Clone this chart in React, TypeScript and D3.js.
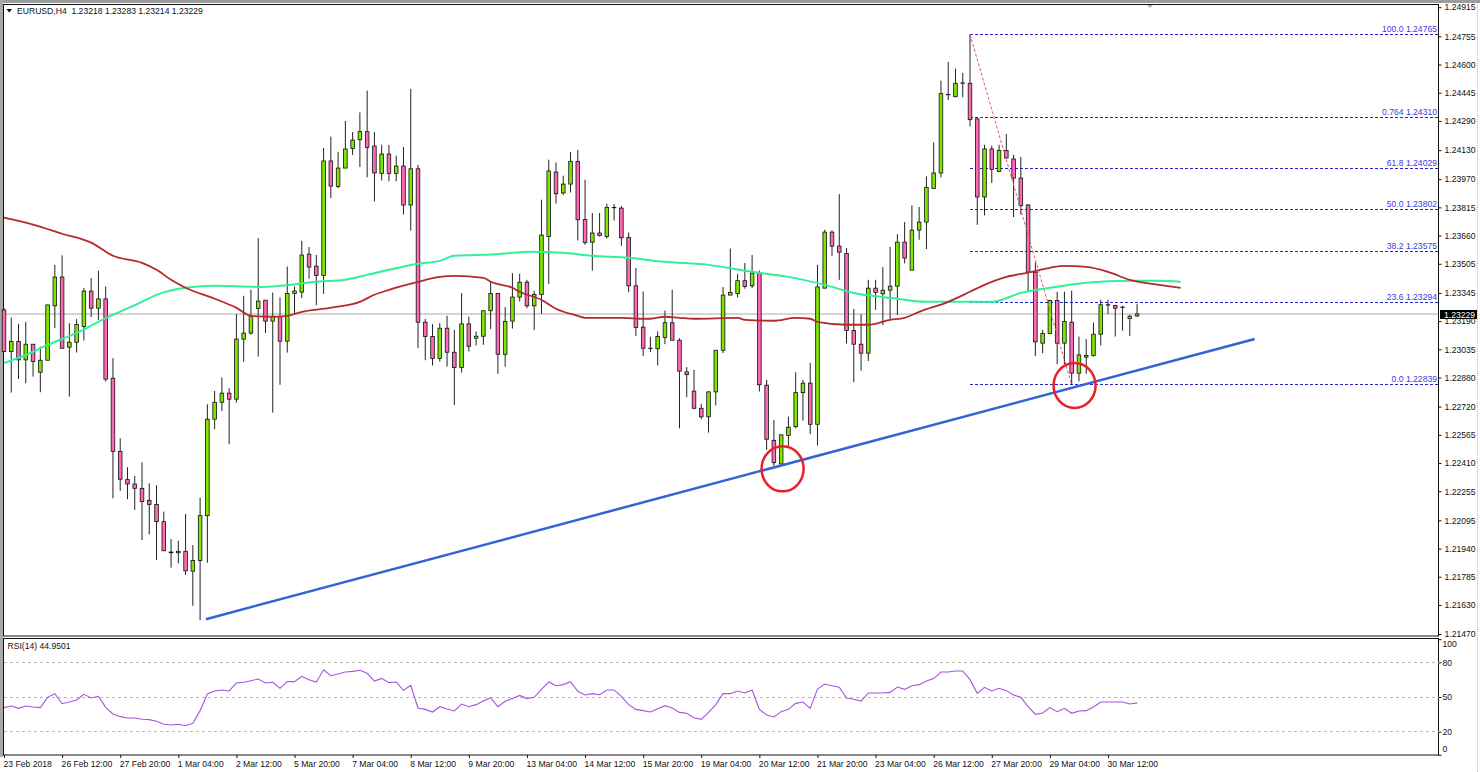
import React, { useRef, useLayoutEffect } from 'react';
import * as d3 from 'd3';

const WIDTH = 1480;
const HEIGHT = 772;

const opens = [
  1.23252, 1.23023, 1.23078, 1.22977, 1.23063, 1.22909, 1.22975, 1.23274, 1.23432, 1.23047,
  1.23074, 1.2316, 1.23355, 1.23261, 1.23312, 1.22876, 1.22473, 1.22319, 1.22295, 1.22271,
  1.22205, 1.22183, 1.22088, 1.21921, 1.21917, 1.21925, 1.21816, 1.21875, 1.22121, 1.22651,
  1.22744, 1.22794, 1.22761, 1.23091, 1.23124, 1.23259, 1.23305, 1.2319, 1.23215, 1.2308,
  1.23342, 1.23349, 1.23558, 1.23492, 1.23441, 1.2407, 1.2393, 1.24031, 1.24139, 1.24187,
  1.24231, 1.24152, 1.24002, 1.24108, 1.24002, 1.24042, 1.23828, 1.24027, 1.23184, 1.23105,
  1.22984, 1.23151, 1.23019, 1.22935, 1.23175, 1.23096, 1.23107, 1.23247, 1.23342, 1.23008,
  1.2319, 1.23322, 1.23404, 1.23274, 1.23336, 1.23655, 1.24009, 1.23894, 1.23943, 1.24068,
  1.23749, 1.23624, 1.23674, 1.23655, 1.23815, 1.23811, 1.2365, 1.23384, 1.23157, 1.23041,
  1.23038, 1.231, 1.23181, 1.23085, 1.22911, 1.22805, 1.22711, 1.22664, 1.22801, 1.2303,
  1.23333, 1.23342, 1.23412, 1.23384, 1.23454, 1.22838, 1.22535, 1.22405, 1.22561, 1.2261,
  1.22797, 1.22849, 1.22623, 1.23371, 1.23679, 1.23602, 1.23562, 1.23138, 1.23063, 1.23014,
  1.23371, 1.2334, 1.2336, 1.23382, 1.23624, 1.2347, 1.2369, 1.23734, 1.23919, 1.24004,
  1.24434, 1.24423, 1.24499, 1.24497, 1.24301, 1.23872, 1.24136, 1.24013, 1.24127, 1.24081,
  1.23976, 1.23828, 1.23459, 1.23069, 1.23122, 1.23303, 1.23069, 1.23184, 1.22904, 1.22992,
  1.23001, 1.23118, 1.23278, 1.23276, 1.23267, 1.23204, 1.23218,
];

const highs = [
  1.23261, 1.2321, 1.23175, 1.23186, 1.23063, 1.2305, 1.23279, 1.23499, 1.23551, 1.23179,
  1.23201, 1.23371, 1.23426, 1.23467, 1.2338, 1.22986, 1.22546, 1.22387, 1.22339, 1.22414,
  1.22299, 1.22288, 1.22143, 1.21992, 1.21983, 1.2213, 1.21959, 1.2222, 1.22733, 1.22806,
  1.2288, 1.22821, 1.23228, 1.23329, 1.23362, 1.23646, 1.23305, 1.23347, 1.2332, 1.2349,
  1.2338, 1.23631, 1.23597, 1.23554, 1.24141, 1.24204, 1.24119, 1.2429, 1.24229, 1.24337,
  1.24457, 1.24229, 1.24159, 1.24158, 1.24099, 1.24147, 1.24466, 1.24049, 1.23202, 1.23173,
  1.23179, 1.23219, 1.23142, 1.23344, 1.23214, 1.23133, 1.23247, 1.23408, 1.23344, 1.23267,
  1.23454, 1.2345, 1.23417, 1.23356, 1.23857, 1.24077, 1.24062, 1.23989, 1.24119, 1.2413,
  1.23967, 1.23784, 1.23784, 1.23835, 1.23833, 1.23822, 1.23677, 1.23481, 1.23353, 1.23104,
  1.23133, 1.23248, 1.23362, 1.23096, 1.22937, 1.22922, 1.22735, 1.22805, 1.2303, 1.23377,
  1.23589, 1.2345, 1.23509, 1.23553, 1.23468, 1.22867, 1.22647, 1.22565, 1.22665, 1.22909,
  1.22867, 1.22961, 1.23499, 1.23692, 1.23688, 1.23888, 1.23591, 1.23257, 1.23228, 1.23417,
  1.23417, 1.23487, 1.23597, 1.23668, 1.23734, 1.23826, 1.23817, 1.23985, 1.24172, 1.24511,
  1.24614, 1.24577, 1.24554, 1.24765, 1.24306, 1.24159, 1.24154, 1.24159, 1.24218, 1.24104,
  1.24092, 1.23833, 1.23512, 1.23142, 1.23307, 1.23351, 1.23351, 1.23357, 1.23105, 1.23091,
  1.23182, 1.23307, 1.23307, 1.2328, 1.23274, 1.23225, 1.23283,
];

const lows = [
  1.23023, 1.22797, 1.22872, 1.22849, 1.22885, 1.22799, 1.22975, 1.23151, 1.23041, 1.22775,
  1.23017, 1.23083, 1.23212, 1.23197, 1.22858, 1.22216, 1.22257, 1.22211, 1.22152, 1.21987,
  1.22018, 1.21877, 1.21928, 1.21835, 1.21859, 1.21794, 1.21626, 1.21547, 1.21862, 1.22596,
  1.22696, 1.22513, 1.22742, 1.22966, 1.23116, 1.22995, 1.23124, 1.22687, 1.2284, 1.23017,
  1.23228, 1.23316, 1.23423, 1.23278, 1.2334, 1.23866, 1.23921, 1.24031, 1.24103, 1.24037,
  1.2398, 1.23848, 1.23963, 1.23958, 1.23958, 1.23776, 1.23687, 1.23041, 1.22975, 1.22946,
  1.22968, 1.2294, 1.22729, 1.22907, 1.23023, 1.23056, 1.2306, 1.23146, 1.229, 1.2294,
  1.23149, 1.23298, 1.23261, 1.23142, 1.2323, 1.23395, 1.23835, 1.23884, 1.23897, 1.23633,
  1.23609, 1.23468, 1.23655, 1.23644, 1.23743, 1.23604, 1.23349, 1.23109, 1.22999, 1.23019,
  1.22946, 1.23063, 1.23085, 1.22601, 1.22772, 1.22706, 1.22651, 1.22577, 1.22726, 1.23014,
  1.23333, 1.2332, 1.23368, 1.23371, 1.22803, 1.22482, 1.22394, 1.22405, 1.225, 1.22601,
  1.22643, 1.22568, 1.22506, 1.23371, 1.23549, 1.23417, 1.23067, 1.22854, 1.22918, 1.2297,
  1.23252, 1.23168, 1.23197, 1.23224, 1.23507, 1.2347, 1.23637, 1.23586, 1.23919, 1.2398,
  1.24405, 1.2442, 1.2442, 1.2426, 1.23719, 1.23771, 1.23949, 1.24009, 1.24086, 1.23762,
  1.23775, 1.23353, 1.22999, 1.23014, 1.23122, 1.22953, 1.22953, 1.22839, 1.22858, 1.229,
  1.22995, 1.23056, 1.2323, 1.23105, 1.23138, 1.23109, 1.23214,
];

const closes = [
  1.23023, 1.23078, 1.22977, 1.23063, 1.22968, 1.22975, 1.23279, 1.23432, 1.23041, 1.23074,
  1.23171, 1.23355, 1.23261, 1.23312, 1.22871, 1.22473, 1.22321, 1.22295, 1.22271, 1.22198,
  1.22183, 1.22088, 1.21928, 1.21917, 1.21925, 1.21818, 1.21875, 1.22121, 1.22651, 1.22744,
  1.22794, 1.22761, 1.23091, 1.23124, 1.23215, 1.233, 1.2319, 1.23215, 1.2308, 1.23342,
  1.23355, 1.23553, 1.23487, 1.23441, 1.2407, 1.23932, 1.24031, 1.24136, 1.24185, 1.24231,
  1.24145, 1.24004, 1.24108, 1.24002, 1.24042, 1.23828, 1.24027, 1.23184, 1.23105, 1.22984,
  1.23151, 1.23019, 1.22935, 1.23175, 1.23052, 1.23107, 1.23247, 1.23342, 1.23008, 1.23188,
  1.23322, 1.23404, 1.23274, 1.23336, 1.23663, 1.24015, 1.2389, 1.23943, 1.24068, 1.23747,
  1.23622, 1.23674, 1.23661, 1.23815, 1.23813, 1.23648, 1.23384, 1.23155, 1.23041, 1.23039,
  1.23105, 1.23181, 1.23085, 1.22915, 1.22896, 1.22711, 1.22664, 1.22801, 1.2303, 1.23333,
  1.23347, 1.23412, 1.2338, 1.23454, 1.2284, 1.22541, 1.22412, 1.22565, 1.22607, 1.22797,
  1.22849, 1.22623, 1.23378, 1.23679, 1.23602, 1.23569, 1.23138, 1.23063, 1.23014, 1.23371,
  1.23347, 1.2336, 1.23382, 1.23624, 1.23536, 1.2369, 1.23734, 1.23925, 1.24004, 1.2444,
  1.24436, 1.24497, 1.24497, 1.24297, 1.23872, 1.24136, 1.24024, 1.24127, 1.24086, 1.23976,
  1.23826, 1.23459, 1.23076, 1.23122, 1.23303, 1.23069, 1.23188, 1.22904, 1.23004, 1.23001,
  1.23118, 1.2328, 1.2328, 1.23261, 1.23265, 1.23217, 1.23229,
];

// moving averages, read at the bar numbers in the *Bars arrays
const redBars = [
  0, 4, 8, 12, 15, 19, 21, 23, 25, 29, 32, 34, 37, 39, 41, 44, 46, 49, 51, 53, 57, 60, 62, 66, 67,
  70, 71, 74, 76, 79, 80, 85, 88, 89, 91, 93, 95, 101, 102, 106, 109, 111, 112, 116, 119, 122, 124,
  126, 130, 133, 135, 138, 141, 144, 146, 149, 152, 155, 159, 162,
];
const redValues = [
  1.23758, 1.2372, 1.2367, 1.23621, 1.23549, 1.2351, 1.23472, 1.23417, 1.23373, 1.23313, 1.23263,
  1.23219, 1.23214, 1.23219, 1.23241, 1.23258, 1.23269, 1.23296, 1.23335, 1.23362, 1.23406, 1.23433,
  1.23439, 1.23428, 1.23406, 1.23373, 1.23351, 1.23307, 1.23258, 1.23219, 1.23208, 1.23208, 1.23203,
  1.23203, 1.23214, 1.23208, 1.23203, 1.23208, 1.23197, 1.23192, 1.23208, 1.23203, 1.23186, 1.2317,
  1.2317, 1.23197, 1.23208, 1.23241, 1.23296, 1.23351, 1.23389, 1.23433, 1.23456, 1.23483, 1.23494,
  1.23488, 1.23461, 1.23417, 1.23389, 1.23373,
];

const greenBars = [
  0, 3, 6, 10, 13, 15, 19, 21, 25, 29, 35, 38, 43, 47, 50, 53, 57, 60, 62, 66, 70, 72, 77, 81, 86,
  91, 97, 103, 108, 113, 117, 122, 127, 130, 136, 140, 144, 149, 155, 159, 162,
];
const greenValues = [
  1.2296, 1.23004, 1.23059, 1.23125, 1.23186, 1.23224, 1.23296, 1.23334, 1.23373, 1.23384, 1.23378,
  1.23384, 1.23406, 1.23417, 1.23444, 1.23472, 1.23505, 1.23521, 1.23549, 1.23554, 1.23565, 1.23571,
  1.23565, 1.23549, 1.23538, 1.23516, 1.23499, 1.23461, 1.23433, 1.23389, 1.23345, 1.23318, 1.23296,
  1.23296, 1.23296, 1.23345, 1.23373, 1.23401, 1.23412, 1.23412, 1.23406,
];

const rsiValues = [
  40.8, 42.2, 40.2, 42.2, 41.4, 40.8, 49.7, 52.9, 44.2, 45.7, 47.4, 52.3, 49.1, 50.6, 41.1, 35.3,
  33.0, 31.8, 31.8, 30.7, 30.4, 29.0, 26.4, 25.8, 26.4, 25.2, 27.2, 38.2, 52.6, 55.2, 56.1, 55.2,
  62.1, 62.7, 64.1, 65.6, 62.1, 62.7, 57.5, 63.3, 63.3, 67.9, 65.0, 63.0, 73.6, 68.4, 69.9, 71.6,
  72.2, 73.1, 70.5, 63.8, 66.1, 62.4, 63.0, 55.8, 60.1, 40.5, 39.3, 37.0, 41.6, 39.6, 37.9, 43.9,
  41.6, 43.4, 46.5, 49.4, 41.6, 46.3, 48.8, 51.4, 48.6, 49.7, 56.6, 63.0, 59.8, 60.7, 63.3, 54.9,
  51.7, 52.9, 52.0, 56.1, 56.1, 50.6, 43.4, 39.3, 38.2, 37.0, 39.9, 42.5, 40.5, 36.7, 35.9, 32.1,
  30.7, 36.7, 43.4, 52.9, 52.9, 55.2, 53.5, 56.1, 39.3, 34.4, 32.7, 37.3, 39.3, 44.5, 45.7, 40.2,
  56.9, 61.2, 59.8, 58.4, 49.1, 48.0, 46.5, 53.5, 53.5, 53.5, 54.0, 58.6, 56.6, 59.8, 60.7, 63.8,
  65.9, 71.6, 71.6, 72.5, 72.5, 65.0, 53.2, 58.4, 55.2, 57.5, 55.5, 51.7, 49.7, 41.6, 35.0, 36.2,
  40.8, 37.3, 40.2, 35.9, 37.9, 38.2, 41.4, 45.7, 45.7, 45.7, 45.7, 43.9, 44.95,
];

const priceTicks = [
  1.24915, 1.24755, 1.246, 1.24445, 1.2429, 1.2413, 1.2397, 1.23815, 1.2366, 1.23505, 1.23345,
  1.2319, 1.23035, 1.2288, 1.2272, 1.22565, 1.2241, 1.22255, 1.22095, 1.2194, 1.21785, 1.2163, 1.2147,
];
const rsiTicks = [100, 80, 50, 20, 0];
const rsiLevels = [80, 50, 20];

const timeLabels = [
  '23 Feb 2018', '26 Feb 12:00', '27 Feb 20:00', '1 Mar 04:00', '2 Mar 12:00', '5 Mar 20:00',
  '7 Mar 04:00', '8 Mar 12:00', '9 Mar 20:00', '13 Mar 04:00', '14 Mar 12:00', '15 Mar 20:00',
  '19 Mar 04:00', '20 Mar 12:00', '21 Mar 20:00', '23 Mar 04:00', '26 Mar 12:00', '27 Mar 20:00',
  '29 Mar 04:00', '30 Mar 12:00',
];
const BARS_PER_LABEL = 8;

const fibLabels = ['100.0', '0.764', '61.8', '50.0', '38.2', '23.6', '0.0'];
const fibPrices = [1.24765, 1.2431, 1.24029, 1.23802, 1.23575, 1.23294, 1.22839];
const fibStartBar = 133;
const fibEndBar = 147;

const trendBars = [27.8, 172.2];
const trendPrices = [1.21552, 1.23092];

const circleBars = [107.2, 147.4];
const circlePrices = [1.22378, 1.22836];

const lastPrice = 1.23229;
const header = 'EURUSD,H4  1.23218 1.23283 1.23214 1.23229';
const rsiHeader = 'RSI(14) 44.9501';

const FONT = '"Liberation Sans", Arial, sans-serif';
const FONT_SIZE = 8.6;
const TEXT = '#111';

const Chart: React.FC = () => {
  const ref = useRef<SVGSVGElement | null>(null);

  useLayoutEffect(() => {
    const svg = d3.select(ref.current);
    svg.selectAll('*').remove();

    const left = 3.5;
    const right = 1438.5;
    const mainTop = 4.5;
    const mainBottom = 636;
    const rsiTop = 638.5;
    const rsiBottom = 755;

    const x = d3.scaleLinear().domain([0, 19 * BARS_PER_LABEL]).range([4, 1108]);
    const y = d3.scaleLinear().domain([1.2147, 1.24915]).range([634.1, 7.2]);
    const yRsi = d3.scaleLinear().domain([0, 100]).range([754.8, 639.2]);

    svg.append('rect').attr('width', WIDTH).attr('height', HEIGHT).attr('fill', '#fff');

    // window edge, grey band top and left, dotted right
    svg.append('rect').attr('width', WIDTH).attr('height', 3).attr('fill', '#9c9c9c');
    svg.append('rect').attr('width', 3).attr('height', 757).attr('fill', '#a8a8a8');
    svg
      .append('line')
      .attr('x1', 1477.5)
      .attr('x2', 1477.5)
      .attr('y1', 3)
      .attr('y2', HEIGHT)
      .attr('stroke', '#bbb')
      .attr('stroke-dasharray', '1,1');
    svg.append('path').attr('d', 'M1146,4 L1154,4 L1150,8 Z').attr('fill', '#b0b0b0');

    // panes
    const panes = [
      [mainTop, mainBottom],
      [rsiTop, rsiBottom],
    ];
    panes.forEach(([t, b]) => {
      svg
        .append('rect')
        .attr('x', left)
        .attr('y', t)
        .attr('width', right - left)
        .attr('height', b - t)
        .attr('fill', 'none')
        .attr('stroke', '#111')
        .attr('stroke-width', 1);
    });

    // price axis
    const priceAxis = d3
      .axisRight(y)
      .tickValues(priceTicks)
      .tickSize(3)
      .tickPadding(3)
      .tickFormat((d) => d3.format('.5f')(d as number));
    const gPrice = svg.append('g').attr('transform', `translate(${right},0)`).call(priceAxis);
    gPrice.select('.domain').remove();

    // rsi axis
    const rsiAxis = d3
      .axisRight(yRsi)
      .tickValues(rsiTicks)
      .tickSize(3)
      .tickPadding(1)
      .tickFormat((d) => String(d));
    const gRsi = svg.append('g').attr('transform', `translate(${right},0)`).call(rsiAxis);
    gRsi.select('.domain').remove();
    gRsi
      .selectAll('text')
      .attr('dy', (d: any) => (d === 100 ? '0.9em' : d === 0 ? '-0.35em' : '0.32em'));

    // time axis
    const timeAxis = d3
      .axisBottom(x)
      .tickValues(timeLabels.map((_, i) => i * BARS_PER_LABEL))
      .tickSize(3)
      .tickPadding(2.5)
      .tickFormat((_, i) => timeLabels[i]);
    const gTime = svg.append('g').attr('transform', `translate(0,${rsiBottom})`).call(timeAxis);
    gTime.select('.domain').remove();
    gTime.selectAll('text').attr('text-anchor', 'start').attr('dx', -1);

    [gPrice, gRsi, gTime].forEach((g) => {
      g.attr('font-family', FONT).attr('font-size', FONT_SIZE);
      g.selectAll('text').attr('fill', TEXT);
      g.selectAll('line').attr('stroke', '#111');
    });

    // current price line
    svg
      .append('line')
      .attr('x1', left)
      .attr('x2', right)
      .attr('y1', y(lastPrice))
      .attr('y2', y(lastPrice))
      .attr('stroke', '#aaa');

    // fibonacci levels
    const fib = svg.append('g');
    fib
      .selectAll('line')
      .data(fibPrices)
      .enter()
      .append('line')
      .attr('x1', x(fibStartBar))
      .attr('x2', right - 1)
      .attr('y1', (d) => y(d))
      .attr('y2', (d) => y(d))
      .attr('stroke', '#2222d0')
      .attr('stroke-dasharray', '3,2')
      .attr('shape-rendering', 'crispEdges');
    fib
      .selectAll('text')
      .data(fibPrices)
      .enter()
      .append('text')
      .attr('x', right - 1.5)
      .attr('y', (d) => y(d) - 2.5)
      .attr('text-anchor', 'end')
      .attr('font-family', FONT)
      .attr('font-size', FONT_SIZE)
      .attr('fill', '#3c3ce0')
      .text((d, i) => `${fibLabels[i]} ${d.toFixed(5)}`);

    // candles
    const candles = svg
      .append('g')
      .selectAll('g')
      .data(opens.map((o, i) => ({ i, o, h: highs[i], l: lows[i], c: closes[i] })))
      .enter()
      .append('g');
    candles
      .append('line')
      .attr('x1', (d) => x(d.i))
      .attr('x2', (d) => x(d.i))
      .attr('y1', (d) => y(d.h))
      .attr('y2', (d) => y(d.l))
      .attr('stroke', '#222');
    candles
      .append('rect')
      .attr('x', (d) => x(d.i) - 1.8)
      .attr('width', 3.6)
      .attr('y', (d) => y(Math.max(d.o, d.c)))
      .attr('height', (d) => Math.abs(y(d.o) - y(d.c)))
      .attr('fill', (d) => (d.c >= d.o ? '#7ee600' : '#ff69b4'))
      .attr('stroke', '#111')
      .attr('stroke-width', 0.8);

    // fibonacci trend line
    svg
      .append('line')
      .attr('x1', x(fibStartBar))
      .attr('y1', y(fibPrices[0]))
      .attr('x2', x(fibEndBar))
      .attr('y2', y(fibPrices[fibPrices.length - 1]))
      .attr('stroke', '#e25a5a')
      .attr('stroke-dasharray', '3,2');

    // moving averages
    const drawMa = (bars: number[], vals: number[], color: string, width: number) => {
      const line = d3
        .line<number>()
        .x((d) => x(d))
        .y((_, i) => y(vals[i]))
        .curve(d3.curveMonotoneX);
      svg
        .append('path')
        .attr('d', line(bars))
        .attr('fill', 'none')
        .attr('stroke', color)
        .attr('stroke-width', width);
    };
    drawMa(greenBars, greenValues, '#30f09a', 2);
    drawMa(redBars, redValues, '#b52a2a', 1.8);

    // trend line
    svg
      .append('line')
      .attr('x1', x(trendBars[0]))
      .attr('y1', y(trendPrices[0]))
      .attr('x2', x(trendBars[1]))
      .attr('y2', y(trendPrices[1]))
      .attr('stroke', '#3463d4')
      .attr('stroke-width', 2.5);

    // circles
    svg
      .selectAll('ellipse')
      .data(circleBars)
      .enter()
      .append('ellipse')
      .attr('cx', (d) => x(d))
      .attr('cy', (_, i) => y(circlePrices[i]))
      .attr('rx', 21)
      .attr('ry', 22.5)
      .attr('fill', 'none')
      .attr('stroke', '#e8202a')
      .attr('stroke-width', 2.5);

    // last price tag
    svg
      .append('rect')
      .attr('x', 1440)
      .attr('y', y(lastPrice) - 4)
      .attr('width', 37)
      .attr('height', 9)
      .attr('fill', '#000');
    svg
      .append('text')
      .attr('x', 1444)
      .attr('y', y(lastPrice) + 3.5)
      .attr('font-family', FONT)
      .attr('font-size', FONT_SIZE)
      .attr('fill', '#fff')
      .text(lastPrice.toFixed(5));

    // rsi levels and line
    svg
      .append('g')
      .selectAll('line')
      .data(rsiLevels)
      .enter()
      .append('line')
      .attr('x1', left)
      .attr('x2', right)
      .attr('y1', (d) => yRsi(d))
      .attr('y2', (d) => yRsi(d))
      .attr('stroke', '#bcbcb4')
      .attr('stroke-dasharray', '3,3')
      .attr('shape-rendering', 'crispEdges');
    const rsiLine = d3
      .line<number>()
      .x((_, i) => x(i))
      .y((d) => yRsi(d));
    svg
      .append('path')
      .attr('d', rsiLine(rsiValues))
      .attr('fill', 'none')
      .attr('stroke', '#a455dc')
      .attr('stroke-width', 1.1);

    // headers
    svg.append('path').attr('d', 'M6.5,9 L12,9 L9.2,12.5 Z').attr('fill', '#000');
    svg
      .append('text')
      .attr('x', 17)
      .attr('y', 13.5)
      .style('white-space', 'pre')
      .attr('font-family', FONT)
      .attr('font-size', FONT_SIZE)
      .attr('fill', TEXT)
      .text(header);
    svg
      .append('text')
      .attr('x', 7.5)
      .attr('y', 649)
      .attr('font-family', FONT)
      .attr('font-size', FONT_SIZE)
      .attr('fill', TEXT)
      .text(rsiHeader);
  }, []);

  return (
    <svg
      ref={ref}
      width={WIDTH}
      height={HEIGHT}
      style={{ position: 'absolute', left: 0, top: 0, display: 'block' }}
    />
  );
};

export default function App() {
  return <Chart />;
}
